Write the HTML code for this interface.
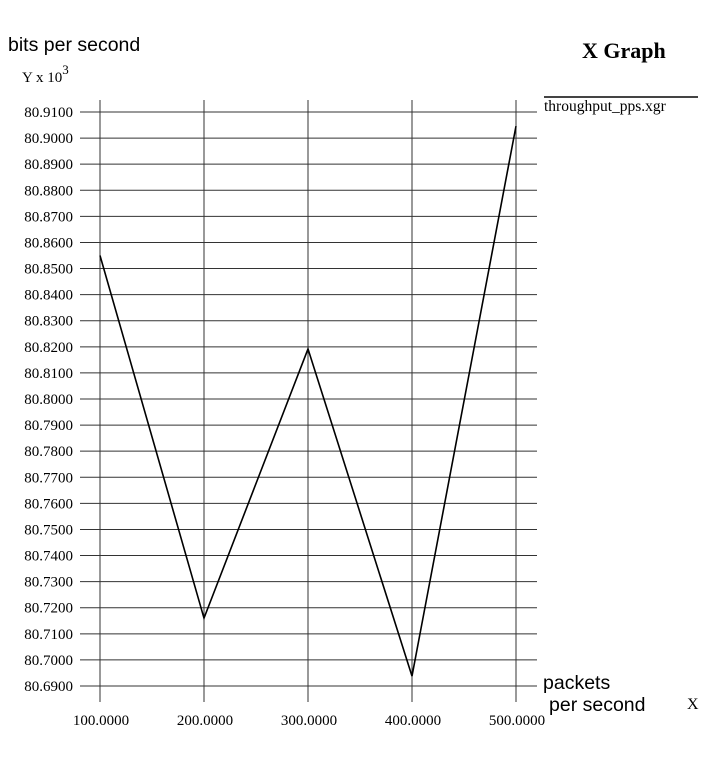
<!DOCTYPE html>
<html><head><meta charset="utf-8"><style>
body{margin:0;background:#fff;width:728px;height:770px;overflow:hidden}
svg text{font-family:"Liberation Serif",serif}
</style></head><body>
<svg id="c" width="728" height="770">
<text x="8" y="51" font-size="19.5" style="font-family:'Liberation Sans',sans-serif">bits per second</text>
<text x="22" y="82" font-size="15">Y x 10<tspan dy="-8" font-size="13">3</tspan></text>
<text x="582" y="58" font-size="22" font-weight="bold">X Graph</text>
<line x1="544" y1="97" x2="698" y2="97" stroke="#444" stroke-width="2"/>
<text x="544" y="111" font-size="15.5">throughput_pps.xgr</text>
<text x="543" y="689" font-size="19.5" style="font-family:'Liberation Sans',sans-serif">packets</text>
<text x="549" y="711" font-size="19.5" style="font-family:'Liberation Sans',sans-serif">per second</text>
<text x="687" y="709" font-size="16">X</text>
<g id="grid"></g>
<g id="series"></g>
</svg>
<script>
const xCats=[100,200,300,400,500];
const yVals=[80.8550,80.7160,80.8192,80.6938,80.9046];
const yTicks=[80.69,80.70,80.71,80.72,80.73,80.74,80.75,80.76,80.77,80.78,80.79,80.80,80.81,80.82,80.83,80.84,80.85,80.86,80.87,80.88,80.89,80.90,80.91];
const ns="http://www.w3.org/2000/svg";
function X(v){return 100+(v-100)*(516-100)/400;}
function Y(v){return 686-(v-80.69)*(686-112)/0.22;}
const g=document.getElementById('grid');
function mk(t,a,p){const e=document.createElementNS(ns,t);for(const k in a)e.setAttribute(k,a[k]);p.appendChild(e);return e;}
yTicks.forEach(t=>{
 const l=mk('line',{x1:80,x2:537,y1:Y(t),y2:Y(t),stroke:'#333','stroke-width':1},g);
 
 
 const tx=mk('text',{x:73,y:Y(t)+5,'text-anchor':'end','font-size':15},g);
 tx.textContent=t.toFixed(4);
 
 
});
xCats.forEach(c=>{
 const l=mk('line',{x1:X(c),x2:X(c),y1:100,y2:702,stroke:'#333','stroke-width':1},g);
 
 
 const tx=mk('text',{x:X(c)+1,y:725,'text-anchor':'middle','font-size':15},g);
 tx.textContent=c.toFixed(4);
 
 
});
const pts=xCats.map((c,i)=>X(c)+','+Y(yVals[i])).join(' ');
const pl=mk('polyline',{points:pts,fill:'none',stroke:'#000','stroke-width':1.6},document.getElementById('series'));


</script>
</body></html>
